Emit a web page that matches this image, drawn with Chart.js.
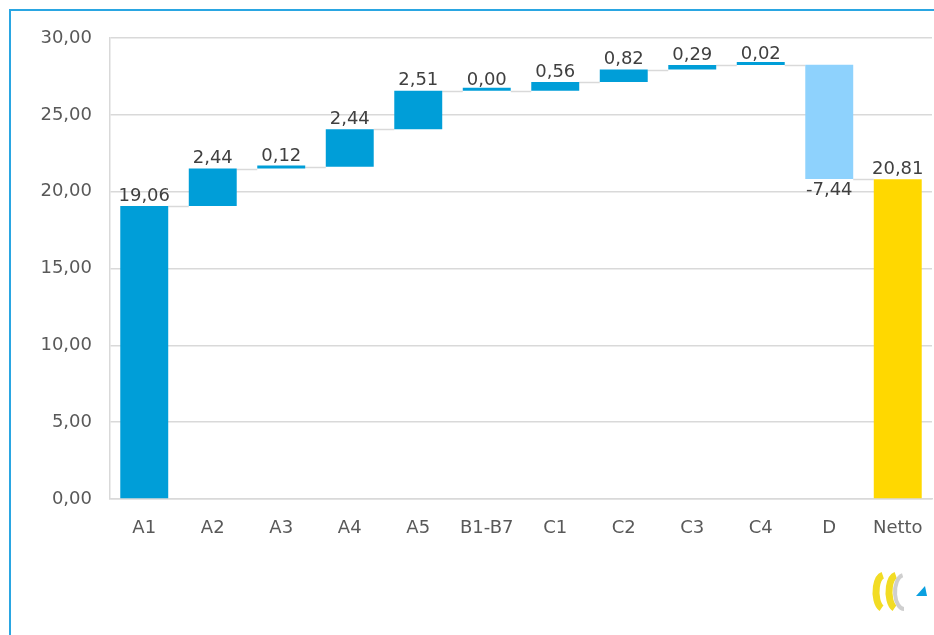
<!DOCTYPE html>
<html>
<head>
<meta charset="utf-8">
<script src="https://cdn.jsdelivr.net/npm/chart.js@4"></script>
<style>
    body { margin: 0; background: #fff; overflow: hidden; }
    .frame { position: absolute; left: 9px; top: 9px; width: 940px; height: 640px;
             border-left: 2px solid #2aa6e2; border-top: 2px solid #2aa6e2; }
    .chart_box { position: absolute; left: 0; top: 0; width: 934px; height: 635px; }
</style>
</head>
<body>
<div class="frame"></div>
<div class="chart_box"><canvas id="myChart"></canvas></div>
<script>
const categories = ['A1', 'A2', 'A3', 'A4', 'A5', 'B1-B7', 'C1', 'C2', 'C3', 'C4', 'D', 'Netto'];
const deltas = [19.06, 2.44, 0.12, 2.44, 2.51, 0.00, 0.56, 0.82, 0.29, 0.02, -7.44];
const netto = 20.81;
const yTicks = [0, 5, 10, 15, 20, 25, 30];

const BLUE = '#009ed8';
const LIGHT = '#8ed2fd';
const YELLOW = '#ffd800';

// floating bars: running total for the steps, netto from zero
let ranges = [];
let total = 0;
deltas.forEach(function (d) {
    ranges.push([total, total + d]);
    total += d;
});
ranges.push([0, netto]);
const labels = deltas.concat([netto]);
const colors = categories.map(function (c, i) {
    if (c === 'Netto') return YELLOW;
    return deltas[i] < 0 ? LIGHT : BLUE;
});

const fmt = v => v.toFixed(2).replace('.', ',');
const FONT = "'DejaVu Sans', sans-serif";

const waterfallExtras = {
    id: 'waterfallExtras',
    beforeDatasetsDraw(chart) {
        const ctx = chart.ctx;
        const meta = chart.getDatasetMeta(0);
        const y = chart.scales.y;
        ctx.save();
        ctx.strokeStyle = '#d9d9d9';
        ctx.lineWidth = 1.5;
        for (let i = 0; i < meta.data.length - 1; i++) {
            const a = meta.data[i], b = meta.data[i + 1];
            const py = Math.round(y.getPixelForValue(ranges[i][1])) + 0.5;
            ctx.beginPath();
            ctx.moveTo(a.x + a.width / 2, py);
            ctx.lineTo(b.x - b.width / 2, py);
            ctx.stroke();
        }
        ctx.restore();
    },
    afterDatasetsDraw(chart) {
        const ctx = chart.ctx;
        const meta = chart.getDatasetMeta(0);
        const y = chart.scales.y;
        ctx.save();
        ctx.font = '18px ' + FONT;
        ctx.fillStyle = '#404040';
        ctx.textAlign = 'center';
        meta.data.forEach(function (bar, i) {
            const r = ranges[i];
            if (labels[i] < 0) {
                ctx.textBaseline = 'top';
                ctx.fillText(fmt(labels[i]), bar.x, y.getPixelForValue(Math.min(r[0], r[1])) + 2);
            } else {
                ctx.textBaseline = 'bottom';
                ctx.fillText(fmt(labels[i]), bar.x, y.getPixelForValue(Math.max(r[0], r[1])) - 1);
            }
        });
        // small logo bottom right
        const lx = 884, ly = 592;
        ctx.lineWidth = 7;
        ctx.strokeStyle = '#f2dc24';
        ctx.beginPath(); ctx.ellipse(lx, ly, 8, 17, 0, Math.PI * 0.6, Math.PI * 1.45); ctx.stroke();
        ctx.beginPath(); ctx.ellipse(lx + 13, ly, 8, 17, 0, Math.PI * 0.6, Math.PI * 1.45); ctx.stroke();
        ctx.lineWidth = 4;
        ctx.strokeStyle = '#cfcfcf';
        ctx.beginPath(); ctx.ellipse(lx + 20, ly, 9, 17, 0, Math.PI * 1.45, Math.PI * 0.5, true); ctx.stroke();
        ctx.fillStyle = '#0aa0e0';
        ctx.beginPath(); ctx.moveTo(lx + 32, ly + 4); ctx.lineTo(lx + 43, ly + 4); ctx.lineTo(lx + 41, ly - 6); ctx.closePath(); ctx.fill();
        ctx.restore();
    }
};

const ctx = document.getElementById('myChart');
new Chart(ctx, {
    type: 'bar',
    data: {
        labels: categories,
        datasets: [{
            data: ranges,
            backgroundColor: colors,
            borderWidth: 0,
            borderSkipped: false,
            minBarLength: 3,
            barPercentage: 0.7,
            categoryPercentage: 1.0
        }]
    },
    options: {
        responsive: true,
        maintainAspectRatio: false,
        animation: false,
        layout: { padding: { top: 38, right: 2, left: 0, bottom: 0 } },
        plugins: { legend: { display: false }, tooltip: { enabled: false } },
        scales: {
            x: {
                grid: { display: false, drawTicks: false },
                border: { color: '#d9d9d9', width: 1.5 },
                ticks: { color: '#595959', font: { family: FONT, size: 18 }, padding: 19, maxRotation: 0 },
                afterFit: function (s) { s.height = 136; s.paddingLeft = 0; s.paddingRight = 0; }
            },
            y: {
                min: 0, max: 30,
                afterBuildTicks: function (s) { s.ticks = yTicks.map(v => ({ value: v })); },
                grid: { color: '#d9d9d9', lineWidth: 1.5, drawTicks: false },
                border: { color: '#d9d9d9', width: 1.5 },
                ticks: { color: '#595959', font: { family: FONT, size: 18 }, padding: 18,
                         callback: v => fmt(v) },
                afterFit: function (s) { s.width = 110; }
            }
        }
    },
    plugins: [waterfallExtras]
});
</script>
</body>
</html>
